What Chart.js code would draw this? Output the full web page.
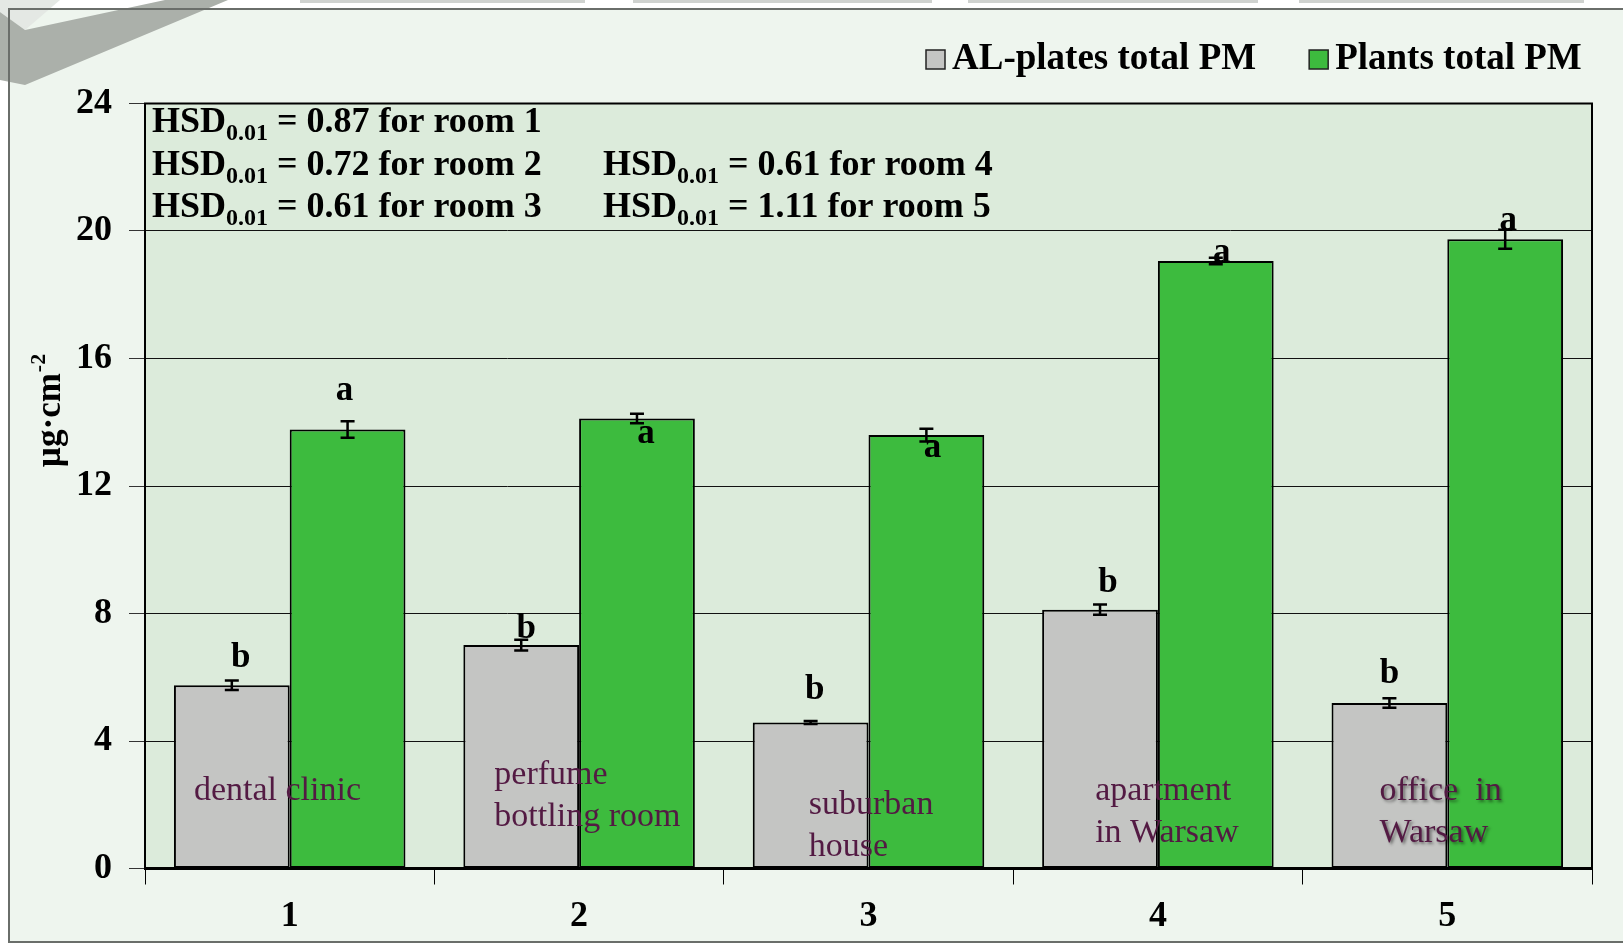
<!DOCTYPE html>
<html>
<head>
<meta charset="utf-8">
<script src="https://cdn.jsdelivr.net/npm/chart.js@4.4.1/dist/chart.umd.min.js"></script>
<style>
  html, body { margin: 0; padding: 0; background: #ffffff; }
  #wrap { width: 1623px; height: 945px; position: relative; }
</style>
</head>
<body>
<div id="wrap"><canvas id="c" width="1623" height="945"></canvas></div>
<script>
// ---- data ----
const rooms = ['1', '2', '3', '4', '5'];
const roomNames = [['dental clinic'], ['perfume', 'bottling room'], ['suburban', 'house'], ['apartment', 'in Warsaw'], ['office  in', 'Warsaw']];
const alPlates = [5.75, 7.01, 4.58, 8.12, 5.19];
const plants = [13.77, 14.12, 13.60, 19.06, 19.74];
const alPlatesErr = [0.15, 0.17, 0.05, 0.16, 0.15];
const plantsErr = [0.26, 0.15, 0.20, 0.10, 0.30];
const alPlatesLetters = ['b', 'b', 'b', 'b', 'b'];
const plantsLetters = ['a', 'a', 'a', 'a', 'a'];
const hsdValues = ['0.87', '0.72', '0.61', '0.61', '1.11'];
const yMin = 0, yMax = 24, yStep = 4;

// ---- placement of the annotations (value units / pixel nudges) ----
const alLetterAt = [6.59, 7.50, 5.60, 8.96, 6.09];
const plantLetterAt = [14.97, 13.64, 13.20, 19.32, 20.32];
const alLetterDx = [9, 5, 4, 8, 0];
const plantLetterDx = [-3, 9, 6, 6, 3];
const roomNameDx = [20, 31, 56, 53, 48];
const roomNameAt = [2.44, 2.92, 1.98, 2.44, 2.44];

const SERIF = '"Liberation Serif", "Times New Roman", Times, serif';
const PLOT_BG = '#dcebdb';
const PAGE_BG = '#eef5ee';
const TEXT_PURPLE = '#531a43';

// page background, frame and the logo ribbon in the corner
const backdrop = {
  id: 'backdrop',
  beforeDraw(chart) {
    const ctx = chart.ctx;
    const ca = chart.chartArea;
    ctx.save();
    ctx.fillStyle = '#ffffff';
    ctx.fillRect(0, 0, chart.width, chart.height);
    ctx.fillStyle = PAGE_BG;
    ctx.fillRect(9, 9, chart.width - 9, chart.height - 12);
    // header tabs
    ctx.fillStyle = '#cfd2cf';
    [[300, 585], [633, 932], [968, 1258], [1299, 1584]].forEach(([a, b]) => ctx.fillRect(a, 0, b - a, 3));
    ctx.fillStyle = 'rgba(240,150,80,0.8)';
    ctx.fillRect(0, 0, 22, 4);
    // ribbon
    ctx.fillStyle = '#e4e8e4';
    ctx.beginPath();
    ctx.moveTo(0, 0); ctx.lineTo(60, 0); ctx.lineTo(25, 30); ctx.lineTo(0, 12); ctx.closePath(); ctx.fill();
    ctx.fillStyle = '#abb0aa';
    ctx.beginPath();
    ctx.moveTo(0, 12); ctx.lineTo(25, 30); ctx.lineTo(165, 0); ctx.lineTo(228, 0);
    ctx.lineTo(25, 85); ctx.lineTo(0, 80); ctx.closePath(); ctx.fill();
    // frame
    ctx.strokeStyle = '#6a6e6a';
    ctx.lineWidth = 2;
    ctx.beginPath();
    ctx.moveTo(chart.width + 5, 9); ctx.lineTo(9, 9); ctx.lineTo(9, 942); ctx.lineTo(chart.width + 5, 942);
    ctx.stroke();
    // plot area
    ctx.fillStyle = PLOT_BG;
    ctx.fillRect(ca.left, ca.top, ca.right - ca.left, ca.bottom - ca.top);
    ctx.restore();
  }
};

// error bars, significance letters, room names, HSD notes, axis title, legend
const annotations = {
  id: 'annotations',
  afterDatasetsDraw(chart) {
    const ctx = chart.ctx;
    const ca = chart.chartArea;
    const y = chart.scales.y;
    const errs = [alPlatesErr, plantsErr];
    const letters = [alPlatesLetters, plantsLetters];
    const letterAt = [alLetterAt, plantLetterAt];
    const letterDx = [alLetterDx, plantLetterDx];
    ctx.save();

    // room names inside the bars
    const grayMeta = chart.getDatasetMeta(0);
    ctx.font = '34px ' + SERIF;
    ctx.textAlign = 'left';
    ctx.textBaseline = 'middle';
    roomNames.forEach((lines, i) => {
      const bar = grayMeta.data[i];
      const left = bar.x - bar.width / 2;
      ctx.save();
      if (i === 4) {
        ctx.shadowColor = 'rgba(0,0,0,0.45)';
        ctx.shadowBlur = 3;
        ctx.shadowOffsetX = 2;
        ctx.shadowOffsetY = 2;
      }
      ctx.fillStyle = TEXT_PURPLE;
      lines.forEach((t, k) => {
        ctx.fillText(t, left + roomNameDx[i], y.getPixelForValue(roomNameAt[i]) + k * 42);
      });
      ctx.restore();
    });

    // error bars
    ctx.strokeStyle = '#000';
    ctx.lineWidth = 2.5;
    [0, 1].forEach(d => {
      const meta = chart.getDatasetMeta(d);
      const vals = chart.data.datasets[d].data;
      meta.data.forEach((bar, i) => {
        const yHi = y.getPixelForValue(vals[i] + errs[d][i]);
        const yLo = y.getPixelForValue(vals[i] - errs[d][i]);
        const x = bar.x;
        ctx.beginPath();
        ctx.moveTo(x, yHi); ctx.lineTo(x, yLo);
        ctx.moveTo(x - 7, yHi); ctx.lineTo(x + 7, yHi);
        ctx.moveTo(x - 7, yLo); ctx.lineTo(x + 7, yLo);
        ctx.stroke();
      });
    });

    // significance letters
    ctx.fillStyle = '#000';
    ctx.font = 'bold 35px ' + SERIF;
    ctx.textAlign = 'center';
    ctx.textBaseline = 'middle';
    [0, 1].forEach(d => {
      const meta = chart.getDatasetMeta(d);
      meta.data.forEach((bar, i) => {
        ctx.fillText(letters[d][i], bar.x + letterDx[d][i], y.getPixelForValue(letterAt[d][i]));
      });
    });

    // HSD notes
    const hsdSlots = [[0, 0], [0, 1], [0, 2], [1, 1], [1, 2]];
    const colX = [ca.left + 7, ca.left + 458];
    const rowY = [ca.top + 16, ca.top + 59, ca.top + 101];
    hsdValues.forEach((v, i) => {
      const [c, r] = hsdSlots[i];
      let x = colX[c];
      const yy = rowY[r];
      ctx.textAlign = 'left';
      ctx.textBaseline = 'alphabetic';
      ctx.font = 'bold 36px ' + SERIF;
      ctx.fillText('HSD', x, yy + 12);
      x += ctx.measureText('HSD').width;
      ctx.font = 'bold 24px ' + SERIF;
      ctx.fillText('0.01', x, yy + 20);
      x += ctx.measureText('0.01').width;
      ctx.font = 'bold 36px ' + SERIF;
      ctx.fillText(' = ' + v + ' for room ' + (i + 1), x, yy + 12);
    });

    // plot frame
    ctx.strokeStyle = '#000';
    ctx.lineWidth = 2;
    ctx.strokeRect(ca.left, ca.top, ca.right - ca.left, ca.bottom - ca.top);
    ctx.lineWidth = 3;
    ctx.beginPath();
    ctx.moveTo(ca.left, ca.bottom); ctx.lineTo(ca.right, ca.bottom);
    ctx.stroke();

    // y-axis title with superscript
    ctx.save();
    ctx.translate(49, 411);
    ctx.rotate(-Math.PI / 2);
    ctx.font = 'bold 35px ' + SERIF;
    const main = 'µg·cm';
    const wMain = ctx.measureText(main).width;
    ctx.font = 'bold 22px ' + SERIF;
    const wSup = ctx.measureText('-2').width;
    const start = -(wMain + wSup) / 2;
    ctx.textAlign = 'left';
    ctx.textBaseline = 'middle';
    ctx.font = 'bold 35px ' + SERIF;
    ctx.fillText(main, start, 2);
    ctx.font = 'bold 22px ' + SERIF;
    ctx.fillText('-2', start + wMain + 1, -10);
    ctx.restore();

    // legend
    ctx.font = 'bold 37px ' + SERIF;
    ctx.textAlign = 'left';
    ctx.textBaseline = 'middle';
    let lx = 926;
    const ly = 59;
    chart.data.datasets.forEach((ds, d) => {
      ctx.fillStyle = ds.backgroundColor;
      ctx.fillRect(lx, ly - 9, 19, 19);
      ctx.strokeStyle = '#222';
      ctx.lineWidth = 1.5;
      ctx.strokeRect(lx, ly - 9, 19, 19);
      ctx.fillStyle = '#000';
      ctx.fillText(ds.label, lx + 26, ly);
      lx += 26 + ctx.measureText(ds.label).width + 53;
    });

    ctx.restore();
  }
};

new Chart(document.getElementById('c'), {
  type: 'bar',
  data: {
    labels: rooms,
    datasets: [
      {
        label: 'AL-plates total PM',
        data: alPlates,
        backgroundColor: '#c4c5c3',
        borderColor: '#000',
        borderWidth: 2,
        borderSkipped: false,
        categoryPercentage: 0.8,
        barPercentage: 1.0
      },
      {
        label: 'Plants total PM',
        data: plants,
        backgroundColor: '#3dbb3e',
        borderColor: '#000',
        borderWidth: 2,
        borderSkipped: false,
        categoryPercentage: 0.8,
        barPercentage: 1.0
      }
    ]
  },
  options: {
    responsive: false,
    devicePixelRatio: 1,
    animation: false,
    layout: { padding: { top: 103.5, right: 31, bottom: 0, left: 0 } },
    plugins: {
      legend: { display: false },
      tooltip: { enabled: false }
    },
    scales: {
      x: {
        afterFit(scale) { scale.height = 76.5; },
        grid: {
          offset: true,
          drawOnChartArea: false,
          drawTicks: true,
          tickLength: 16,
          tickColor: '#000',
          lineWidth: 1
        },
        border: { display: true, color: '#000', width: 3 },
        ticks: {
          color: '#000',
          font: { family: SERIF, size: 36, weight: 'bold' },
          padding: 11
        }
      },
      y: {
        min: yMin,
        max: yMax,
        afterFit(scale) { scale.width = 145; },
        ticks: {
          stepSize: yStep,
          color: '#000',
          font: { family: SERIF, size: 36, weight: 'bold' },
          padding: 17
        },
        grid: {
          color: '#111',
          lineWidth: 1,
          tickLength: 16,
          tickColor: '#333'
        },
        border: { display: true, color: '#000', width: 2 }
      }
    }
  },
  plugins: [backdrop, annotations]
});
</script>
</body>
</html>
